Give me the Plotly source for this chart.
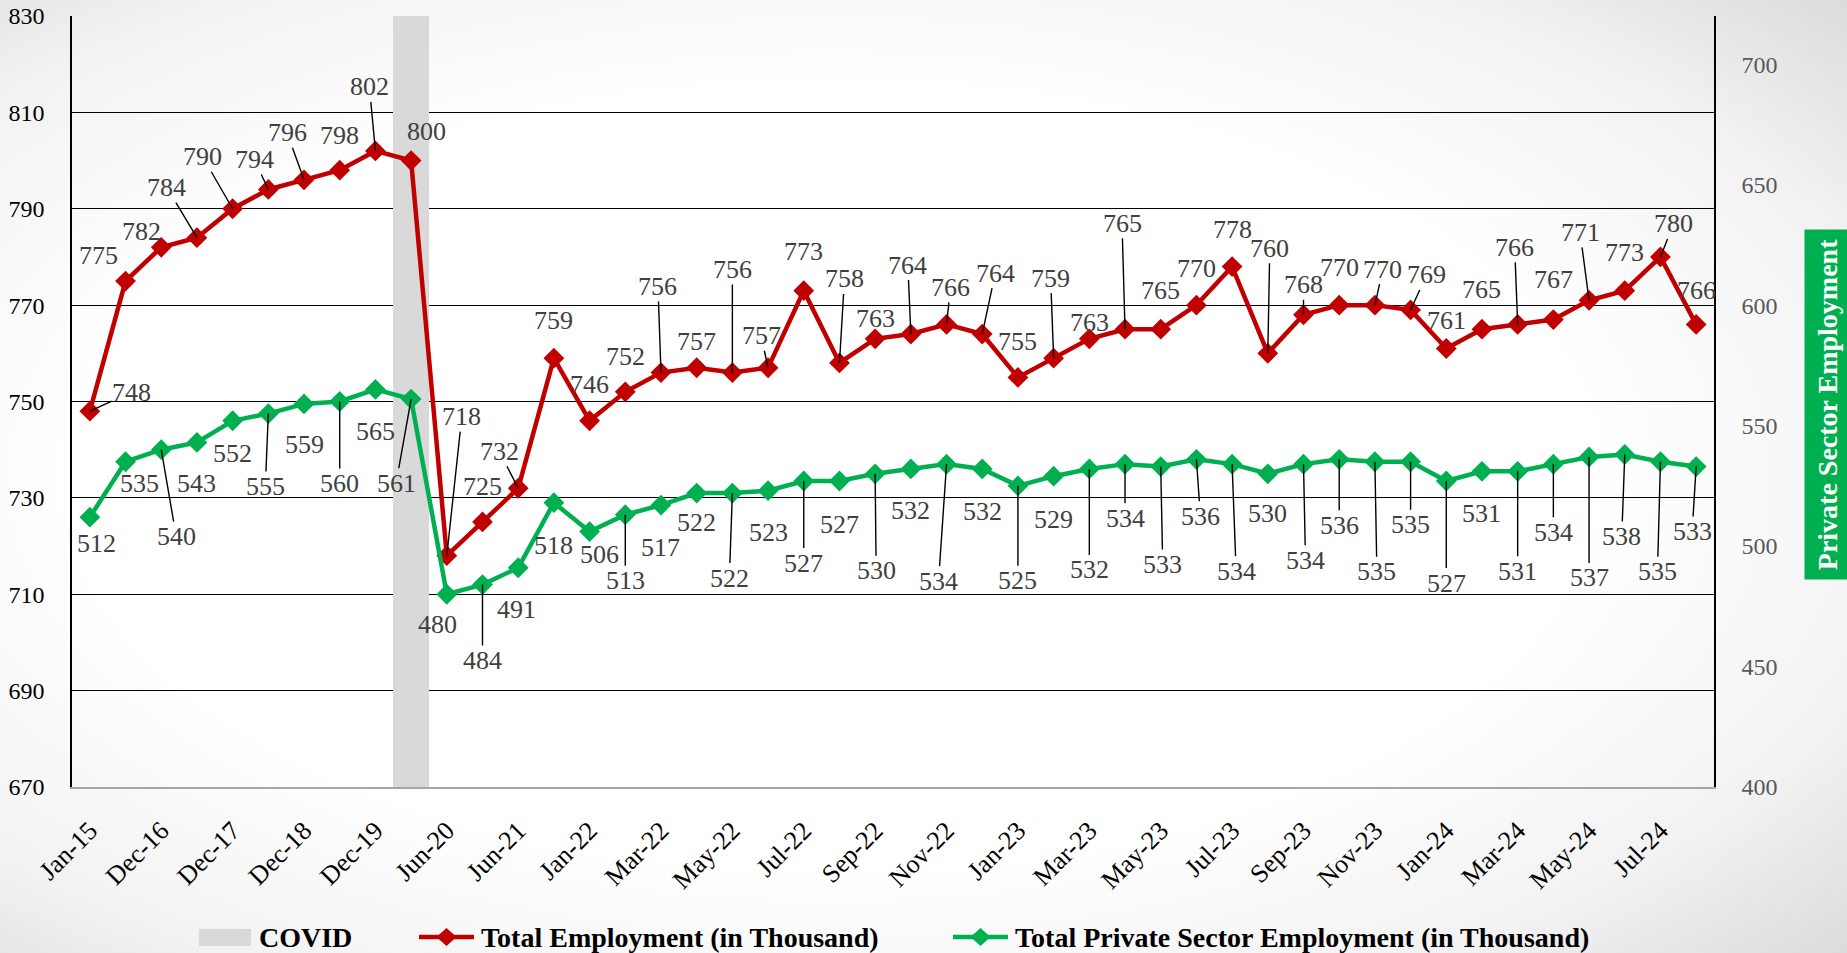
import base64
import plotly.graph_objects as go

# ---------------- data ----------------
categories = ["Jan-15", "Dec-15", "Dec-16", "Jun-17", "Dec-17", "Jun-18", "Dec-18", "Jun-19",
              "Dec-19", "Mar-20", "Jun-20", "Dec-20", "Jun-21", "Dec-21",
              "Jan-22", "Feb-22", "Mar-22", "Apr-22", "May-22", "Jun-22", "Jul-22", "Aug-22",
              "Sep-22", "Oct-22", "Nov-22", "Dec-22",
              "Jan-23", "Feb-23", "Mar-23", "Apr-23", "May-23", "Jun-23", "Jul-23", "Aug-23",
              "Sep-23", "Oct-23", "Nov-23", "Dec-23",
              "Jan-24", "Feb-24", "Mar-24", "Apr-24", "May-24", "Jun-24", "Jul-24", "Aug-24"]

total_employment = [748, 775, 782, 784, 790, 794, 796, 798, 802, 800, 718, 725, 732, 759,
                    746, 752, 756, 757, 756, 757, 773, 758, 763, 764, 766, 764,
                    755, 759, 763, 765, 765, 770, 778, 760, 768, 770, 770, 769,
                    761, 765, 766, 767, 771, 773, 780, 766]

private_employment = [512, 535, 540, 543, 552, 555, 559, 560, 565, 561, 480, 484, 491, 518,
                      506, 513, 517, 522, 522, 523, 527, 527, 530, 532, 534, 532,
                      525, 529, 532, 534, 533, 536, 534, 530, 534, 536, 535, 535,
                      527, 531, 531, 534, 537, 538, 535, 533]

covid = [None, None, None, None, None, None, None, None, None, 830, None, None, None, None,
         None, None, None, None, None, None, None, None, None, None, None, None,
         None, None, None, None, None, None, None, None, None, None, None, None,
         None, None, None, None, None, None, None, None]

x_tick_labels = categories[::2]
left_ticks = [670, 690, 710, 730, 750, 770, 790, 810, 830]
right_ticks = [400, 450, 500, 550, 600, 650, 700]

# ---------------- label placement (pixel offsets, style only) ----------------
red_dx = [42, -27, -20, -30, -30, -14, -17, 0, -6, 15, 15, 0, -19, 0,
          0, 0, -3, 0, 0, -7, 0, 5, 0, -3, 4, 13,
          0, -3, 0, -3, 0, 0, 0, 2, 0, 0, 8, 16,
          0, 0, -3, 0, -9, 0, 13, 0]
red_dy = [-19, -26, -16, -50, -52, -30, -47, -35, -64, -29, -139, -35, -37, -38,
          -36, -35, -86, -26, -103, -32, -39, -84, -20, -69, -37, -61,
          -36, -80, -16, -106, -39, -37, -37, -105, -30, -38, -36, -35,
          -28, -40, -77, -40, -68, -38, -33, -34]
red_lead = [1, 0, 0, 1, 1, 1, 1, 0, 1, 0, 1, 0, 1, 0,
            0, 0, 1, 0, 1, 1, 0, 1, 0, 1, 1, 1,
            0, 1, 0, 1, 0, 0, 0, 1, 1, 0, 1, 1,
            0, 0, 1, 0, 1, 0, 1, 0]

grn_dx = [7, 14, 15, 0, 0, -3, 0, 0, 0, -15, -9, 0, -2, 0,
          10, 0, 0, 0, -3, 0, 0, 0, 1, 0, -8, 0,
          0, 0, 0, 0, 2, 4, 4, 0, 2, 0, 2, 0,
          0, 0, 0, 0, 0, -3, -3, -4]
grn_dy = [26, 22, 87, 41, 33, 73, 41, 82, 42, 84, 30, 76, 42, 43,
          23, 66, 42, 29, 85, 42, 82, 43, 97, 42, 117, 43,
          95, 43, 101, 54, 98, 57, 107, 40, 96, 66, 110, 63,
          102, 42, 100, 68, 121, 82, 110, 65]
grn_lead = [0, 0, 1, 0, 0, 1, 0, 1, 0, 1, 0, 1, 0, 0,
            0, 1, 0, 0, 1, 0, 1, 0, 1, 0, 1, 0,
            1, 0, 1, 1, 1, 1, 1, 0, 1, 1, 1, 1,
            1, 0, 1, 1, 1, 1, 1, 1]

# ---------------- geometry / style ----------------
W, H = 1847, 953
ML, MR, MT, MB = 72, 133, 16, 166
PW, PH = W - ML - MR, H - MT - MB

RED = "#C00000"
GREEN = "#00B050"
FONT = "Liberation Serif, Times New Roman, serif"
LABEL_COLOR = "#404040"


def px(x, y):
    return (x - ML) / PW, (H - MB - y) / PH


fig = go.Figure()

fig.add_trace(go.Bar(x=categories, y=covid, name="COVID", marker=dict(color="#D9D9D9", line=dict(width=0)),
                     width=1.0, showlegend=False, hoverinfo="skip"))

fig.add_trace(go.Scatter(x=categories, y=total_employment, name="Total Employment (in Thousand)",
                         mode="lines+markers", line=dict(color=RED, width=4.5),
                         marker=dict(symbol="diamond", size=16, color=RED), showlegend=False))

fig.add_trace(go.Scatter(x=categories, y=private_employment, name="Total Private Sector Employment (in Thousand)",
                         mode="lines+markers", line=dict(color=GREEN, width=4.5),
                         marker=dict(symbol="diamond", size=16, color=GREEN), yaxis="y2", showlegend=False))

annotations = []


def add_labels(values, dxs, dys, leads, yref):
    for c, v, dx, dy, lead in zip(categories, values, dxs, dys, leads):
        common = dict(x=c, y=v, xref="x", yref=yref, text=str(v),
                      font=dict(family=FONT, size=26, color=LABEL_COLOR))
        if lead:
            annotations.append(dict(**common, showarrow=True, arrowhead=0, arrowwidth=1.4,
                                    arrowcolor="#000000", ax=dx, ay=dy, standoff=0, borderpad=0))
        else:
            annotations.append(dict(**common, showarrow=False, xshift=dx, yshift=-dy))


add_labels(total_employment, red_dx, red_dy, red_lead, "y")
add_labels(private_employment, grn_dx, grn_dy, grn_lead, "y2")

# right axis title in green box
tx, ty = px(1827, 405)
annotations.append(dict(x=tx, y=ty, xref="paper", yref="paper", text="<b>Private Sector Employment</b>",
                        textangle=-90, showarrow=False, bgcolor=GREEN, width=347, height=42,
                        font=dict(family=FONT, size=28, color="white"),
                        xanchor="center", yanchor="middle"))

# manual legend
shapes = []
LY = 937
x0, y0 = px(199, 929)
x1, y1 = px(251, 946)
shapes.append(dict(type="rect", xref="paper", yref="paper", x0=x0, y0=y0, x1=x1, y1=y1,
                   fillcolor="#D9D9D9", line=dict(width=0)))
lx, ly = px(257, LY)
annotations.append(dict(x=lx, y=ly, xref="paper", yref="paper", text="<b>COVID</b>", showarrow=False,
                        xanchor="left", yanchor="middle", font=dict(family=FONT, size=28, color="black")))


def legend_line(xa, xb, color, text, tx0):
    a, yy = px(xa, LY)
    b, _ = px(xb, LY)
    shapes.append(dict(type="line", xref="paper", yref="paper", x0=a, x1=b, y0=yy, y1=yy,
                       line=dict(color=color, width=4.5)))
    cx = (xa + xb) / 2
    pts = [px(cx - 10, LY), px(cx, LY - 9), px(cx + 10, LY), px(cx, LY + 9)]
    path = "M " + " L ".join(f"{p[0]},{p[1]}" for p in pts) + " Z"
    shapes.append(dict(type="path", xref="paper", yref="paper", path=path, fillcolor=color,
                       line=dict(width=0)))
    t, _ = px(tx0, LY)
    annotations.append(dict(x=t, y=yy, xref="paper", yref="paper", text=f"<b>{text}</b>", showarrow=False,
                            xanchor="left", yanchor="middle", font=dict(family=FONT, size=28, color="black")))


legend_line(419, 474, RED, "Total Employment (in Thousand)", 479)
legend_line(953, 1008, GREEN, "Total Private Sector Employment (in Thousand)", 1013)

# background gradient
svg = ("<svg xmlns='http://www.w3.org/2000/svg' width='1847' height='953'>"
       "<defs><radialGradient id='g' cx='0.45' cy='0.5' r='0.75'>"
       "<stop offset='0' stop-color='#ffffff'/><stop offset='0.55' stop-color='#ffffff'/>"
       "<stop offset='0.8' stop-color='#f2f2f2'/>"
       "<stop offset='1' stop-color='#dadada'/></radialGradient></defs>"
       "<rect width='1847' height='953' fill='url(#g)'/></svg>")
src = "data:image/svg+xml;base64," + base64.b64encode(svg.encode()).decode()
ix, iy = px(0, 0)

fig.update_layout(
    width=W, height=H,
    margin=dict(l=ML, r=MR, t=MT, b=MB, pad=0, autoexpand=False),
    paper_bgcolor="rgba(0,0,0,0)", plot_bgcolor="rgba(0,0,0,0)",
    bargap=0, showlegend=False,
    font=dict(family=FONT),
    images=[dict(source=src, xref="paper", yref="paper", x=ix, y=iy, sizex=W / PW, sizey=H / PH,
                 xanchor="left", yanchor="top", sizing="stretch", layer="below")],
    xaxis=dict(type="category", categoryorder="array", categoryarray=categories,
               range=[-0.5, len(categories) - 0.5], tickmode="array", tickvals=x_tick_labels,
               ticktext=x_tick_labels, tickangle=-45, tickfont=dict(family=FONT, size=26, color="black"),
               showline=True, linecolor="#A6A6A6", linewidth=2, showgrid=False, ticks="",
               ticklabelstandoff=16, zeroline=False, automargin=False),
    yaxis=dict(range=[670, 830], tickmode="array", tickvals=left_ticks, showgrid=True,
               gridcolor="#000000", gridwidth=1.4, showline=True, linecolor="#000000", linewidth=1.5,
               tickfont=dict(family=FONT, size=24, color="black"),
               ticks="outside", ticklen=21, tickcolor="rgba(0,0,0,0)",
               zeroline=False, automargin=False),
    yaxis2=dict(overlaying="y", side="right", range=[400, 720], tickmode="array", tickvals=right_ticks,
                showgrid=False, showline=True, linecolor="#000000", linewidth=1.5,
                tickfont=dict(family=FONT, size=24, color="#595959"),
                ticks="outside", ticklen=21, tickcolor="rgba(0,0,0,0)",
                zeroline=False, automargin=False),
    annotations=annotations,
    shapes=shapes,
)

fig.write_html("out.html", config={"displayModeBar": False},
               post_script="document.body.style.margin='0';document.body.style.overflow='hidden';")
